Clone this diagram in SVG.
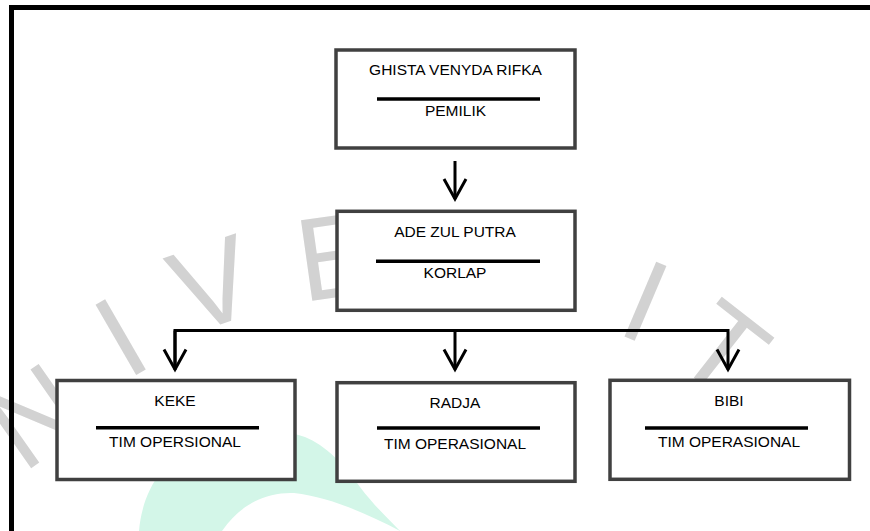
<svg xmlns="http://www.w3.org/2000/svg" width="870" height="531" viewBox="0 0 870 531">
  <defs>
    <style>
      .box { fill: #ffffff; stroke: #404040; stroke-width: 3.5; }
      .div { stroke: #000000; stroke-width: 3.5; }
      .lbl { font-family: "Liberation Sans", Arial, sans-serif; font-size: 15.5px; fill: #000000; text-anchor: middle; }
      .conn { fill: none; stroke: #000000; stroke-width: 3; }
      .wm { font-family: "Liberation Sans", Arial, sans-serif; font-size: 118px; fill: #d2d2d2; text-anchor: middle; }
    </style>
    <marker id="ah" markerUnits="userSpaceOnUse" markerWidth="30" markerHeight="30" viewBox="-25 -15 30 30" refX="0" refY="0" orient="auto" overflow="visible">
      <path d="M-20,-11 L0,0 L-20,11" fill="none" stroke="#000000" stroke-width="3"/>
    </marker>
  </defs>

  <rect x="0" y="0" width="870" height="531" fill="#ffffff"/>

  <!-- watermark -->
  <g id="watermark">
    <path d="M139,531 C142,495 160,460 200,440 C240,425 280,428 305,437 C325,445 345,465 360,487 C375,507 390,520 400,531 Z" fill="#d3f6e8"/>
    <path d="M222,531 C240,505 265,492 294,493 C330,497 370,515 400,531 Z" fill="#ffffff"/>
    <text class="wm" transform="translate(34,415) rotate(-35)" y="42">N</text>
    <text class="wm" transform="translate(120,336) rotate(-30)" y="42">I</text>
    <text class="wm" transform="translate(212,283) rotate(-19)" y="42">V</text>
    <text class="wm" transform="translate(336,255) rotate(-8)" y="42">E</text>
    <text class="wm" transform="translate(646,300) rotate(23)" y="42">I</text>
    <text class="wm" transform="translate(724,348) rotate(38)" y="42">T</text>
  </g>

  <!-- outer frame -->
  <path d="M11.5,531 V7.5 H870" fill="none" stroke="#000000" stroke-width="5"/>

  <g id="connectors">
    <path class="conn" d="M455,161 V199" marker-end="url(#ah)"/>
    <path class="conn" d="M175,369.5 V330.5 H728 V369.5" marker-end="url(#ah)"/>
    <path class="conn" d="M175,330.5 V369.5" marker-end="url(#ah)"/>
    <path class="conn" d="M455,330.5 V369.5" marker-end="url(#ah)"/>
  </g>

  <g id="pemilik">
    <rect class="box" x="336" y="50" width="239" height="98"/>
    <text class="lbl" x="455.5" y="74.5">GHISTA VENYDA RIFKA</text>
    <line class="div" x1="377" y1="99" x2="540" y2="99"/>
    <text class="lbl" x="455.5" y="116">PEMILIK</text>
  </g>

  <g id="korlap">
    <rect class="box" x="337" y="211.3" width="238" height="99"/>
    <text class="lbl" x="455" y="237.3">ADE ZUL PUTRA</text>
    <line class="div" x1="376" y1="261.3" x2="540" y2="261.3"/>
    <text class="lbl" x="455" y="278.3">KORLAP</text>
  </g>

  <g id="keke">
    <rect class="box" x="57" y="380.5" width="238" height="99"/>
    <text class="lbl" x="175" y="406">KEKE</text>
    <line class="div" x1="96" y1="427.7" x2="259" y2="427.7"/>
    <text class="lbl" x="175" y="446.7">TIM OPERSIONAL</text>
  </g>

  <g id="radja">
    <rect class="box" x="337" y="382.7" width="238" height="98.6"/>
    <text class="lbl" x="455" y="408.3">RADJA</text>
    <line class="div" x1="377" y1="428" x2="540" y2="428"/>
    <text class="lbl" x="455" y="449.3">TIM OPERASIONAL</text>
  </g>

  <g id="bibi">
    <rect class="box" x="610" y="380.3" width="239.5" height="99"/>
    <text class="lbl" x="729" y="406">BIBI</text>
    <line class="div" x1="645" y1="428" x2="808" y2="428"/>
    <text class="lbl" x="729" y="447.3">TIM OPERASIONAL</text>
  </g>
</svg>
